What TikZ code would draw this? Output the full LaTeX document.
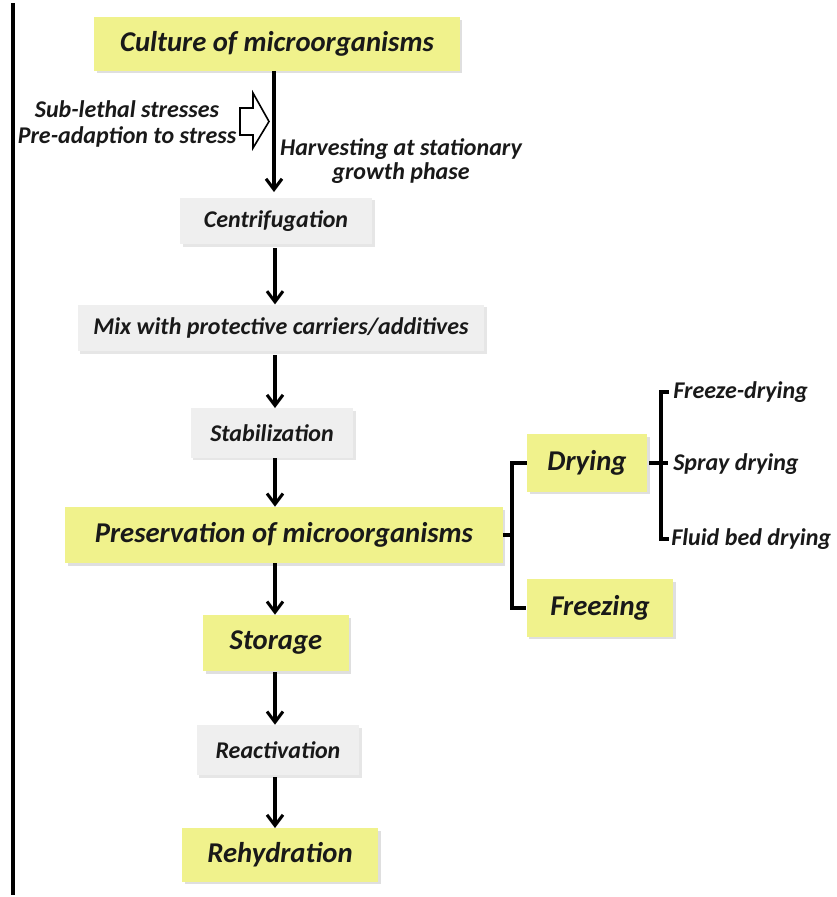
\documentclass[tikz,border=0pt]{standalone}
\usepackage{fontspec}
\setmainfont{Carlito}
\usetikzlibrary{arrows.meta,shadows}
\definecolor{boxyellow}{RGB}{240,242,140}
\definecolor{boxgrey}{RGB}{239,239,239}
\definecolor{inkdark}{RGB}{25,25,25}
\tikzset{
  yellowbox/.style={fill=boxyellow,drop shadow={shadow xshift=2pt,shadow yshift=-2pt,opacity=0.25},
    font=\fontsize{21.5}{24}\selectfont\bfseries\itshape,text=inkdark,inner sep=0pt},
  greybox/.style={fill=boxgrey,drop shadow={shadow xshift=2pt,shadow yshift=-2pt,opacity=0.2},
    font=\fontsize{18}{21}\selectfont\bfseries\itshape,text=inkdark,inner sep=0pt},
  flow/.style={line width=2.3pt,-{Straight Barb[length=8pt,width=12pt,line width=2.3pt]}},
  brace/.style={line width=2.3pt},
  note/.style={font=\fontsize{18}{19.5}\selectfont\bfseries\itshape,text=inkdark,inner sep=0pt}
}
\begin{document}
\begin{tikzpicture}[x=0.75pt,y=-0.75pt]
  \useasboundingbox (0,0) rectangle (837,897);
  \draw[line width=3pt] (13,3) -- (13,895);
  % main column
  \node[yellowbox,minimum width=274pt,minimum height=40pt] (culture) at (277,44) {Culture of microorganisms};
  \node[greybox,minimum width=144pt,minimum height=35pt] (centri) at (276,221) {Centrifugation};
  \node[greybox,minimum width=305pt,minimum height=35pt] (mix) at (281,328) {Mix with protective carriers/additives};
  \node[greybox,minimum width=122pt,minimum height=37pt] (stab) at (272,433) {Stabilization};
  \node[yellowbox,minimum width=328pt,minimum height=42pt] (pres) at (284,535) {Preservation of microorganisms};
  \node[yellowbox,minimum width=109pt,minimum height=42pt] (storage) at (276,643) {Storage};
  \node[greybox,minimum width=122pt,minimum height=37.5pt] (react) at (278,750) {Reactivation};
  \node[yellowbox,minimum width=147pt,minimum height=40pt] (rehyd) at (280,855) {Rehydration};
  \draw[flow] (culture.south -| 274,0) -- (274,192);
  \draw[flow] (275,248) -- (mix.north -| 275,0);
  \draw[flow] (275,355) -- (stab.north -| 275,0);
  \draw[flow] (275,458) -- (pres.north -| 275,0);
  \draw[flow] (275,563) -- (storage.north -| 275,0);
  \draw[flow] (275,672) -- (react.north -| 275,0);
  \draw[flow] (275,777) -- (rehyd.north -| 275,0);
  % side notes at the first arrow
  \node[note,align=center] (stress) at (127,124) {Sub-lethal stresses\\Pre-adaption to stress};
  \draw[line width=1.2pt,fill=white] (240,108) -- (253,108) -- (253,93) -- (269,121.5)
    -- (253,148) -- (253,135) -- (240,135) -- cycle;
  \node[note,align=center,font=\fontsize{18}{17.5}\selectfont\bfseries\itshape] (harv) at (401,161) {Harvesting at stationary\\growth phase};
  % preservation branches
  \node[yellowbox,minimum width=90pt,minimum height=43pt] (drying) at (587,463) {Drying};
  \node[yellowbox,minimum width=110pt,minimum height=43pt] (freezing) at (600,608) {Freezing};
  \coordinate (pj) at (512,535);
  \draw[brace] (pres.east) -- (pj);
  \draw[brace] (drying.west) -- (512,463) -- (512,608) -- (freezing.west);
  \coordinate (dj) at (661,463);
  \draw[brace] (drying.east) ++(2,0) -- (668,463);
  \draw[brace] (669,392) -- (661,392) -- (661,539) -- (669,539);
  \node[note,anchor=west] (fd) at (673,392) {Freeze-drying};
  \node[note,anchor=west] (sd) at (673,464) {Spray drying};
  \node[note,anchor=west] (fb) at (671,539) {Fluid bed drying};
\end{tikzpicture}
\end{document}
